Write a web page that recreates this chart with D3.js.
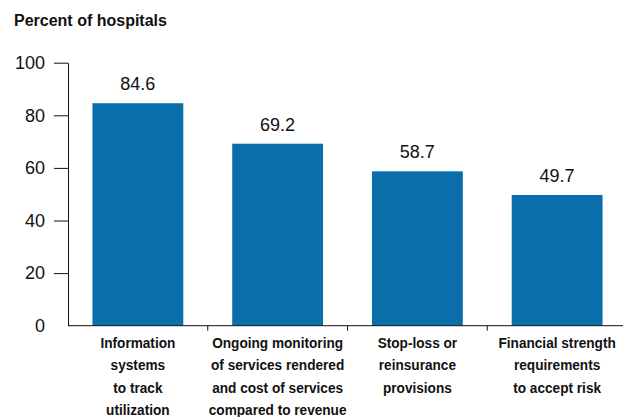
<!DOCTYPE html>
<html>
<head>
<meta charset="utf-8">
<script src="https://cdn.jsdelivr.net/npm/d3@7"></script>
<style>
  body { margin: 0; background: #fff; }
  text { font-family: "Liberation Sans", Arial, sans-serif; fill: #111; }
</style>
</head>
<body>
<svg width="623" height="417"></svg>
<script>
var categories = [
    ["Information", "systems", "to track", "utilization"],
    ["Ongoing monitoring", "of services rendered", "and cost of services", "compared to revenue"],
    ["Stop-loss or", "reinsurance", "provisions"],
    ["Financial strength", "requirements", "to accept risk"]
];
var values = [84.6, 69.2, 58.7, 49.7];
var yTicks = [0, 20, 40, 60, 80, 100];

var svg = d3.select("svg");
var barColor = "#0a6eaa";

var x = d3.scaleBand()
    .domain(d3.range(categories.length))
    .range([68, 627])
    .paddingInner(0.35)
    .paddingOuter(0.175);

var y = d3.scaleLinear()
    .domain([0, 100])
    .range([325.7, 62.7]);

// title
svg.append("text")
    .attr("x", 14)
    .attr("y", 26)
    .style("font-size", "16px")
    .style("font-weight", "bold")
    .text("Percent of hospitals");

// bars
svg.append("g").selectAll("rect")
    .data(values)
    .enter()
        .append("rect")
        .attr("x", (d, i) => x(i))
        .attr("width", x.bandwidth())
        .attr("y", d => y(d))
        .attr("height", d => y(0) - y(d))
        .attr("fill", barColor);

// value labels
svg.append("g").selectAll("text")
    .data(values)
    .enter()
        .append("text")
        .attr("x", (d, i) => x(i) + x.bandwidth() / 2)
        .attr("y", d => y(d) - 13)
        .attr("text-anchor", "middle")
        .style("font-size", "18px")
        .text(d => d.toFixed(1));

// y axis
var yAxis = svg.append("g")
    .attr("transform", "translate(68,0)")
    .call(d3.axisLeft(y).tickValues(yTicks).tickSize(14).tickPadding(9).tickSizeOuter(0));
yAxis.select(".domain").attr("stroke", "#111");
yAxis.selectAll(".tick line").attr("stroke", "#111")
    .attr("display", d => d === 0 ? "none" : null);
yAxis.selectAll(".tick text")
    .style("font-size", "18px")
    .attr("font-family", null)
    .attr("fill", null);

// x axis line and separators
var step = x.step();
var boundaries = d3.range(1, categories.length).map(i => x(i) - step * x.paddingInner() / 2);
svg.append("line")
    .attr("x1", 68).attr("x2", 623)
    .attr("y1", y(0)).attr("y2", y(0))
    .attr("stroke", "#111");
svg.append("g").selectAll("line")
    .data(boundaries)
    .enter()
        .append("line")
        .attr("x1", d => d).attr("x2", d => d)
        .attr("y1", y(0)).attr("y2", y(0) + 5)
        .attr("stroke", "#111");

// category labels (squeezed a bit to look like a condensed face)
var labels = svg.append("g").selectAll("g")
    .data(categories)
    .enter()
        .append("g")
        .attr("transform", (d, i) => "translate(" + (x(i) + x.bandwidth() / 2) + ",348) scale(0.88,1)")
    .append("text")
        .attr("text-anchor", "middle")
        .style("font-size", "15.5px")
        .style("font-weight", "bold");
labels.selectAll("tspan")
    .data(d => d)
    .enter()
        .append("tspan")
        .attr("x", 0)
        .attr("dy", (d, i) => i === 0 ? 0 : 22.3)
        .text(d => d);
</script>
</body>
</html>
